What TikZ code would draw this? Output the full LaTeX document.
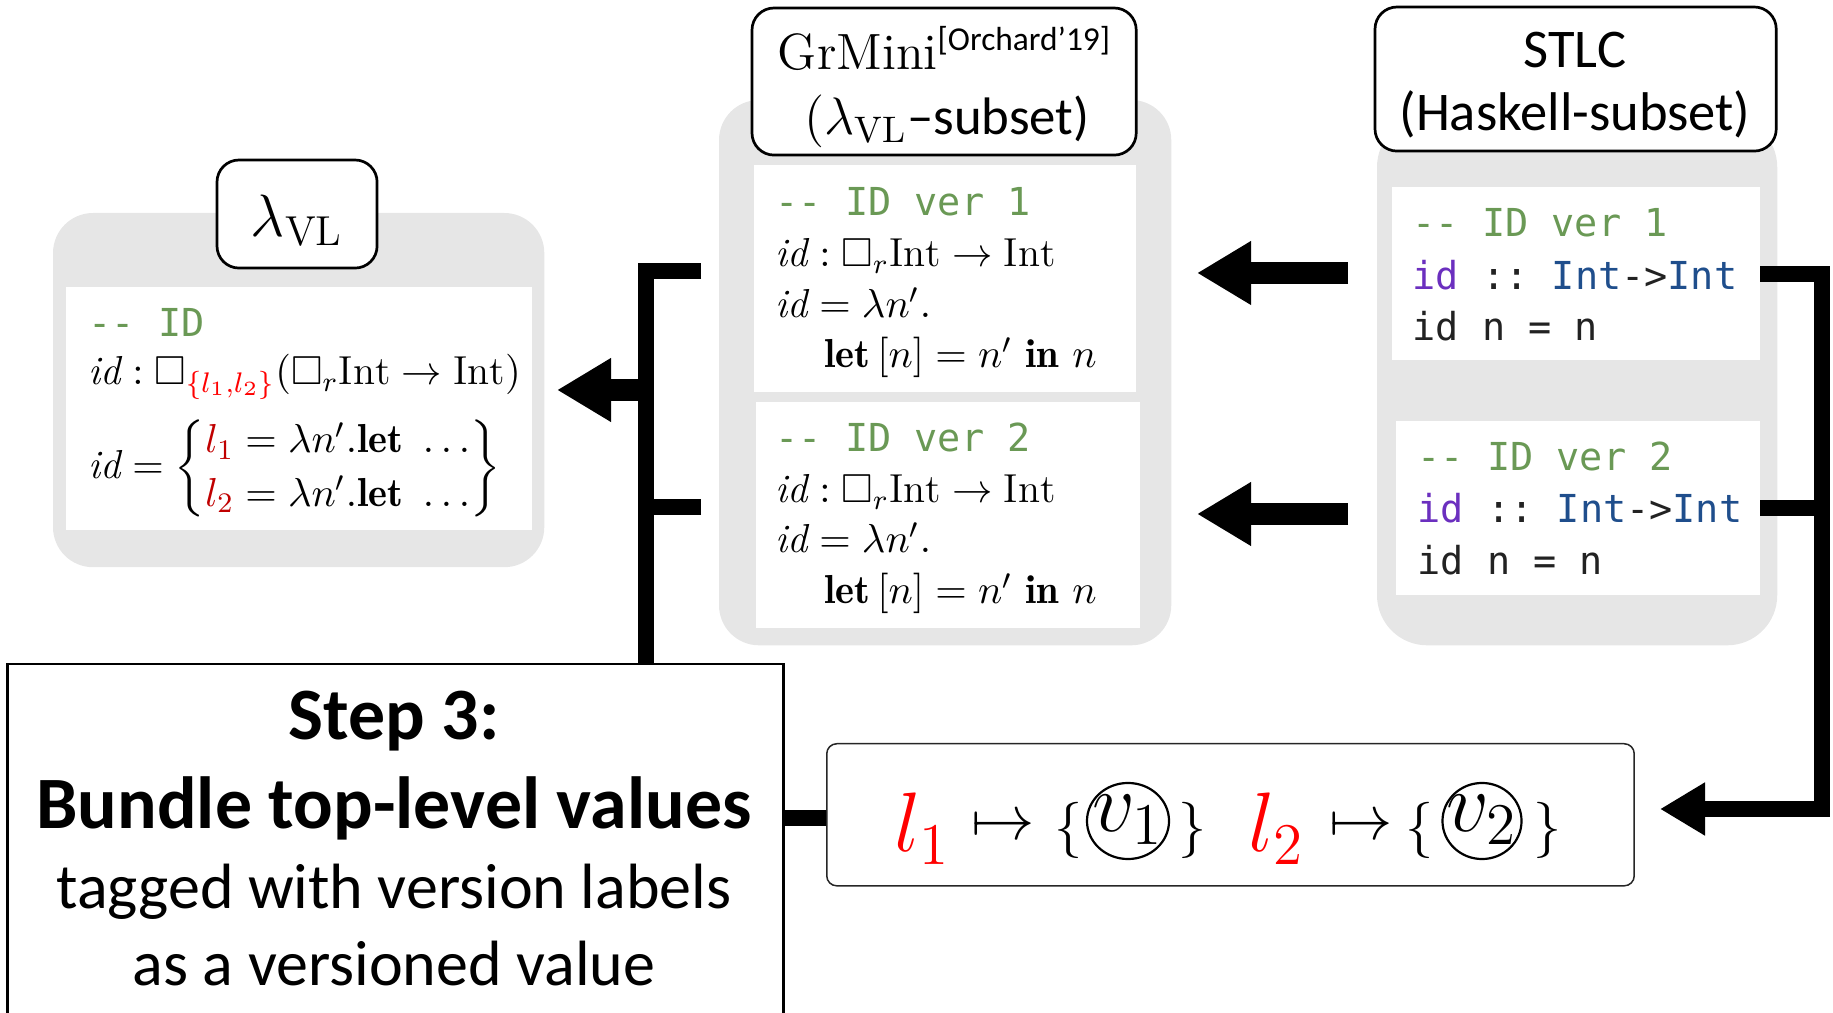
\documentclass[tikz,border=0pt]{standalone}
\usepackage{fix-cm}
\usepackage{amsmath,amssymb}
\usepackage{fontspec}
\setmonofont{DejaVu Sans Mono}
\newfontfamily\calibri{Carlito}
\usetikzlibrary{arrows.meta,shapes.geometric}

\definecolor{cgreen}{HTML}{6A9955}
\definecolor{cpurple}{HTML}{6B2FBF}
\definecolor{cblue}{HTML}{1F4E8C}
\definecolor{cdark}{HTML}{222222}
\definecolor{panelgray}{HTML}{E6E6E6}
\definecolor{lred}{HTML}{C00000}
\definecolor{bred}{HTML}{FF0000}

\newcommand{\codesize}{\ttfamily\fontsize{10.95}{13}\selectfont}
\newcommand{\mathsize}{\fontsize{11.5}{14}\selectfont}

\tikzset{
  panel/.style={fill=panelgray, draw=none, rounded corners=0.4cm, anchor=north west, inner sep=0pt, outer sep=0pt},
  titlebox/.style={fill=white, draw=black, line width=0.027cm, rounded corners=0.22cm, anchor=north west, inner sep=0pt, outer sep=0pt},
  codebox/.style={fill=white, draw=none, anchor=north west, inner sep=0pt, outer sep=0pt},
  codeline/.style={anchor=base west, inner sep=0pt, font=\codesize, text=cdark},
  comment/.style={codeline, text=cgreen},
  mathline/.style={anchor=base west, inner sep=0pt, font=\mathsize},
  label/.style={anchor=base, inner sep=0pt},
  conn/.style={line width=0.16cm, line cap=butt, line join=miter},
  bigarrow/.style={line width=0.22cm, line cap=butt, -{Triangle[length=0.54cm,width=0.6cm]}},
  circv/.style={draw, ellipse, line width=0.022cm, inner sep=0pt},
}

\begin{document}
\begin{tikzpicture}[x=0.01cm, y=-0.01cm]
\useasboundingbox (0,0) rectangle (1833,1013);

% grey language panels
\node[panel, minimum width=4.91cm, minimum height=3.54cm] (vlpanel) at (53,213) {};
\node[panel, minimum width=4.52cm, minimum height=5.45cm] (gmpanel) at (719,100) {};
\node[panel, rounded corners=0.5cm, minimum width=4.0cm, minimum height=5.28cm] (stpanel) at (1377,117) {};

% title boxes
\node[titlebox, minimum width=1.60cm, minimum height=1.08cm] (vltitle) at (217,160) {};
\node[titlebox, minimum width=3.84cm, minimum height=1.47cm] (gmtitle) at (752,8) {};
\node[titlebox, minimum width=4.01cm, minimum height=1.44cm] (sttitle) at (1375,7) {};

% white code boxes
\node[codebox, minimum width=4.66cm, minimum height=2.43cm] (vlcode) at (66,287) {};
\node[codebox, minimum width=3.82cm, minimum height=2.27cm] (gm1) at (754,165) {};
\node[codebox, minimum width=3.84cm, minimum height=2.26cm] (gm2) at (756,402) {};
\node[codebox, minimum width=3.68cm, minimum height=1.73cm] (st1) at (1392,187) {};
\node[codebox, minimum width=3.64cm, minimum height=1.74cm] (st2) at (1396,421) {};

% step box and versioned value box
\node[draw=black, line width=0.025cm, fill=white, anchor=north west, inner sep=0pt,
      minimum width=7.76cm, minimum height=3.8cm] (stepnode) at (6,663) {};
\node[draw=black!85, line width=0.015cm, fill=white, rounded corners=0.1cm, anchor=north west,
      inner sep=0pt, minimum width=8.07cm, minimum height=1.42cm] (vbox) at (826,743) {};

% connectors: GrMini -> lambda_VL bracket
\coordinate (gs1) at (701,271);
\coordinate (gs2) at (701,507);
\coordinate (barx) at (646,0);
\coordinate (vltip) at (557,390);
\draw[conn] (gs1) -| (barx |- stepnode.north);
\draw[conn] (gs2) -- (barx |- gs2);
\draw[bigarrow] (barx |- vltip) -- (vltip);

% STLC -> GrMini arrows
\coordinate (sa1) at (1348,273);
\coordinate (ta1) at (1197,273);
\coordinate (sa2) at (1348,514);
\coordinate (ta2) at (1197,514);
\draw[bigarrow] (sa1) -- (ta1);
\draw[bigarrow] (sa2) -- (ta2);

% STLC -> versioned value bracket
\coordinate (rbar) at (1822,0);
\coordinate (vtip) at (1660,809);
\draw[conn, -{Triangle[length=0.45cm,width=0.5cm]}] (st1.east) -| (rbar |- vtip) -- (vtip);
\draw[conn] (st2.east) -- (rbar |- st2.east);

% step box -> versioned value
\coordinate (midy) at (0,818);
\draw[conn] (stepnode.east |- midy) -- (vbox.west |- midy);

% titles
\node[label, font=\fontsize{17}{20}\selectfont] (vlname) at (297,237) {$\lambda_{\mathrm{VL}}$};
\node[label, font=\fontsize{14.5}{17}\selectfont] (gmname) at (944,70)
  {GrMini\raisebox{5.6pt}{\calibri\fontsize{9.5}{11}\selectfont[Orchard’19]}};
\node[label, font=\fontsize{15}{18}\selectfont] (gmsub) at (947,135)
  {$(\lambda_{\mathrm{VL}}$\calibri –subset)};
\node[label, font=\calibri\fontsize{15.5}{18}\selectfont] (stname) at (1575,68) {STLC};
\node[label, font=\calibri\fontsize{15.5}{18}\selectfont] (stsub) at (1575,131) {(Haskell-subset)};

% lambda_VL code
\node[comment] (vlc0) at (88,337) {-{}- ID};
\node[mathline] (vlc1) at (88,385)
  {$\mathit{id} : \square_{\textcolor{bred}{\{l_1,l_2\}}}(\square_r\mathrm{Int} \to \mathrm{Int})$};
\node[mathline] (vlc2) at (88,479)
  {\renewcommand{\arraystretch}{1.08}$\mathit{id} = \left\{\begin{array}{@{}l@{}}
     \textcolor{lred}{l_1} = \lambda n'.\mathbf{let}\ \ldots \\
     \textcolor{lred}{l_2} = \lambda n'.\mathbf{let}\ \ldots
   \end{array}\right\}$};

% GrMini code, version 1
\node[comment] (g1a) at (775,216) {-{}- ID ver 1};
\node[mathline] (g1b) at (775,267) {$\mathit{id} : \square_r\mathrm{Int} \to \mathrm{Int}$};
\node[mathline] (g1c) at (775,318) {$\mathit{id} = \lambda n'.$};
\node[mathline] (g1d) at (824,368) {$\mathbf{let}\,[n] = n'\ \mathbf{in}\ n$};
% GrMini code, version 2
\node[comment] (g2a) at (775,452) {-{}- ID ver 2};
\node[mathline] (g2b) at (775,503) {$\mathit{id} : \square_r\mathrm{Int} \to \mathrm{Int}$};
\node[mathline] (g2c) at (775,553) {$\mathit{id} = \lambda n'.$};
\node[mathline] (g2d) at (824,604) {$\mathbf{let}\,[n] = n'\ \mathbf{in}\ n$};

% STLC code
\node[comment] (s1a) at (1412,237) {-{}- ID ver 1};
\node[codeline] (s1b) at (1412,290) {\textcolor{cpurple}{id} :: \textcolor{cblue}{Int}->\textcolor{cblue}{Int}};
\node[codeline] (s1c) at (1412,341) {id n = n};
\node[comment] (s2a) at (1417,471) {-{}- ID ver 2};
\node[codeline] (s2b) at (1417,523) {\textcolor{cpurple}{id} :: \textcolor{cblue}{Int}->\textcolor{cblue}{Int}};
\node[codeline] (s2c) at (1417,575) {id n = n};

% step description
\node[label, font=\calibri\bfseries\fontsize{21}{25}\selectfont] (stepa) at (394,740) {Step 3:};
\node[label, font=\calibri\bfseries\fontsize{21}{25}\selectfont] (stepb) at (394,828) {Bundle top-level values};
\node[label, font=\calibri\fontsize{18.2}{22}\selectfont] (stepc) at (394,909) {tagged with version labels};
\node[label, font=\calibri\fontsize{18.2}{22}\selectfont] (stepd) at (394,985) {as a versioned value};

% versioned value
\node[anchor=base west, inner sep=0pt, font=\fontsize{24}{28}\selectfont, text=bred] (vl1) at (894,852) {$l_1$};
\node[label, font=\fontsize{18}{21}\selectfont] (vm1) at (1003,840) {$\mapsto$};
\node[label, font=\fontsize{16}{19}\selectfont] (vb1) at (1069,844) {$\{$};
\node[circv, minimum width=0.82cm, minimum height=0.76cm] (vc1) at (1128,821) {};
\node[label, font=\fontsize{24}{28}\selectfont] (vv1) at (1128,832) {$v_1$};
\node[label, font=\fontsize{16}{19}\selectfont] (ve1) at (1193,844) {$\}$};
\node[anchor=base west, inner sep=0pt, font=\fontsize{24}{28}\selectfont, text=bred] (vl2) at (1248,852) {$l_2$};
\node[label, font=\fontsize{18}{21}\selectfont] (vm2) at (1361,840) {$\mapsto$};
\node[label, font=\fontsize{16}{19}\selectfont] (vb2) at (1420,844) {$\{$};
\node[circv, minimum width=0.79cm, minimum height=0.76cm] (vc2) at (1482,821) {};
\node[label, font=\fontsize{24}{28}\selectfont] (vv2) at (1482,832) {$v_2$};
\node[label, font=\fontsize{16}{19}\selectfont] (ve2) at (1548,844) {$\}$};
\end{tikzpicture}
\end{document}
